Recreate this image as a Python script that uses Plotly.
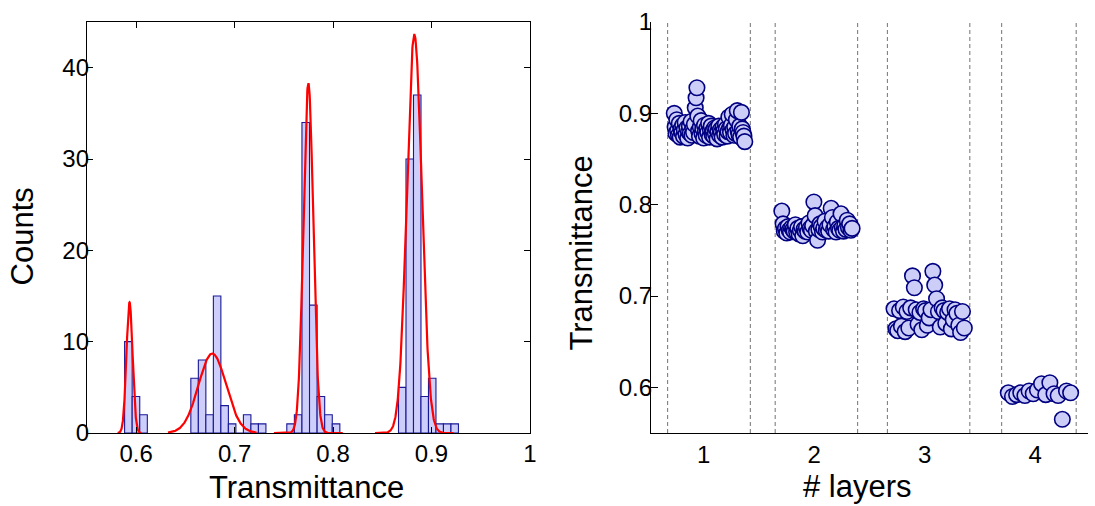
import numpy as np
import plotly.graph_objects as go

# ---------------- data ----------------
# Histogram (left panel): one set of bins per layer group
hist_left_edges = [0.5882, 0.6555, 0.7530, 0.8665]
hist_bin_width = [0.0077, 0.00763, 0.0077, 0.00761]
hist_counts = [
    [10, 4, 2],
    [6, 8, 2, 15, 3, 1, 0, 2, 1, 1],
    [1, 2, 34, 14, 4, 2, 1],
    [5, 30, 37, 4, 6, 1, 1, 1],
]

# Gaussian fits (amplitude, mean, sigma, half-span drawn)
fit_amp = [14.3, 8.7, 38.3, 43.6]
fit_mu = [0.5932, 0.6773, 0.7749, 0.8826]
fit_sigma = [0.0031, 0.0140, 0.0050, 0.0076]
fit_span = [0.012, 0.045, 0.035, 0.04]

# Scatter (right panel)
layers = [1, 2, 3, 4]
group_bounds = [(0.674, 1.422), (1.647, 2.393), (2.662, 3.408), (3.696, 4.370)]
t_layer1 = [0.900, 0.885, 0.878, 0.893, 0.881, 0.876, 0.889, 0.874, 0.883, 0.879,
            0.887, 0.875, 0.882, 0.890, 0.877, 0.884, 0.873, 0.880, 0.886, 0.878,
            0.891, 0.876, 0.883, 0.879, 0.888, 0.906, 0.917, 0.928, 0.897, 0.881,
            0.875, 0.885, 0.892, 0.878, 0.883, 0.873, 0.887, 0.880, 0.876, 0.884,
            0.879, 0.889, 0.874, 0.882, 0.886, 0.877, 0.881, 0.875, 0.884, 0.878,
            0.883, 0.872, 0.880, 0.886, 0.876, 0.882, 0.879, 0.874, 0.885, 0.881,
            0.877, 0.888, 0.883, 0.875, 0.880, 0.896, 0.884, 0.879, 0.887, 0.899,
            0.882, 0.876, 0.885, 0.878, 0.893, 0.903, 0.881, 0.877, 0.886, 0.874,
            0.901, 0.883, 0.879, 0.875, 0.869]
t_layer2 = [0.793, 0.779, 0.771, 0.774, 0.769, 0.776, 0.772, 0.770, 0.775, 0.773,
            0.771, 0.778, 0.770, 0.774, 0.768, 0.772, 0.776, 0.766, 0.773, 0.771,
            0.775, 0.770, 0.780, 0.774, 0.772, 0.777, 0.803, 0.788, 0.771, 0.761,
            0.773, 0.779, 0.776, 0.770, 0.774, 0.782, 0.772, 0.775, 0.771, 0.778,
            0.796, 0.786, 0.773, 0.776, 0.770, 0.781, 0.774, 0.772, 0.790, 0.775,
            0.771, 0.777, 0.773, 0.783, 0.775, 0.779, 0.772, 0.774]
t_layer3 = [0.686, 0.664, 0.662, 0.684, 0.667, 0.688, 0.661, 0.683, 0.665, 0.687,
            0.722, 0.709, 0.685, 0.669, 0.682, 0.663, 0.686, 0.684, 0.668, 0.676,
            0.685, 0.727, 0.712, 0.697, 0.683, 0.666, 0.687, 0.684, 0.670, 0.682,
            0.686, 0.664, 0.674, 0.685, 0.681, 0.668, 0.660, 0.683, 0.665]
t_layer4 = [0.594, 0.590, 0.592, 0.594, 0.591, 0.596, 0.593, 0.597, 0.604, 0.592,
            0.605, 0.593, 0.591, 0.565, 0.596, 0.594]
t_layers = [t_layer1, t_layer2, t_layer3, t_layer4]

x_ticks_left = [0.6, 0.7, 0.8, 0.9, 1.0]
x_ticktext_left = ["0.6", "0.7", "0.8", "0.9", "1"]
y_ticks_left = [0, 10, 20, 30, 40]
y_ticks_right = [0.6, 0.7, 0.8, 0.9, 1.0]
y_ticktext_right = ["0.6", "0.7", "0.8", "0.9", "1"]

# ---------------- style ----------------
FONT = "Liberation Sans, Arial, sans-serif"
BAR_FILL = "rgb(206,206,250)"
BAR_EDGE = "rgb(25,25,150)"
MK_FILL = "rgb(204,206,248)"
MK_EDGE = "rgb(0,0,128)"

W, H = 1095, 506
ML, MR, MT, MB = 87, 0, 22, 73
PW = W - ML - MR
PH = H - MT - MB

fig = go.Figure()

# histogram bars
for e0, bw, counts in zip(hist_left_edges, hist_bin_width, hist_counts):
    centers = [e0 + bw * (i + 0.5) for i in range(len(counts))]
    fig.add_trace(go.Bar(
        x=centers, y=counts, width=[bw] * len(counts),
        marker=dict(color=BAR_FILL, line=dict(color=BAR_EDGE, width=1.1)),
        xaxis="x", yaxis="y", showlegend=False,
    ))

# gaussian fits
for a, mu, s, sp in zip(fit_amp, fit_mu, fit_sigma, fit_span):
    xs = np.linspace(mu - sp, mu + sp, 300)
    ys = a * np.exp(-0.5 * ((xs - mu) / s) ** 2)
    fig.add_trace(go.Scatter(
        x=xs, y=ys, mode="lines", line=dict(color="red", width=2.2),
        xaxis="x", yaxis="y", showlegend=False,
    ))

# scatter groups
for (lo, hi), vals in zip(group_bounds, t_layers):
    xs = np.linspace(lo + 0.06, hi - 0.05, len(vals))
    fig.add_trace(go.Scatter(
        x=xs, y=vals, mode="markers",
        marker=dict(size=15.5, color=MK_FILL, line=dict(color=MK_EDGE, width=1.6)),
        xaxis="x2", yaxis="y2", showlegend=False,
    ))

shapes = []
for lo, hi in group_bounds:
    for xv in (lo, hi):
        shapes.append(dict(type="line", xref="x2", yref="y2 domain",
                           x0=xv, x1=xv, y0=0, y1=1, layer="below",
                           line=dict(color="rgb(115,115,115)", width=1, dash="4px,3px")))

left_dom = [0, 446 / PW]
right_dom = [(655 - ML) / PW, 1]

axis_common = dict(showgrid=False, zeroline=False, showline=True,
                   linecolor="black", linewidth=1.4, ticks="inside",
                   tickcolor="black", tickwidth=1.3,
                   tickfont=dict(family=FONT, size=24, color="black"))


def py(pix):
    return (MT + PH - pix) / PH


def px(pix):
    return (pix - ML) / PW


annotations = [
    dict(text="Counts", x=px(22), y=py(236), xref="paper", yref="paper",
         textangle=-90, showarrow=False, xanchor="center", yanchor="middle",
         font=dict(family=FONT, size=31, color="black")),
    dict(text="Transmittance", x=px(308), y=py(487), xref="paper", yref="paper",
         showarrow=False, xanchor="center", yanchor="middle",
         font=dict(family=FONT, size=31, color="black")),
    dict(text="Transmittance", x=px(584), y=py(253), xref="paper", yref="paper",
         textangle=-90, showarrow=False, xanchor="center", yanchor="middle",
         font=dict(family=FONT, size=31, color="black")),
    dict(text="# layers", x=px(863), y=py(486), xref="paper", yref="paper",
         showarrow=False, xanchor="center", yanchor="middle",
         font=dict(family=FONT, size=31, color="black")),
]

fig.update_layout(
    width=W, height=H,
    margin=dict(l=ML, r=MR, t=MT, b=MB, pad=0),
    paper_bgcolor="white", plot_bgcolor="white",
    barmode="overlay",
    shapes=shapes,
    annotations=annotations,
    xaxis=dict(domain=left_dom, range=[0.55, 1.0], tickvals=x_ticks_left,
               ticktext=x_ticktext_left, mirror="ticks", ticklen=6,
               ticklabelstandoff=-1, anchor="y", **axis_common),
    yaxis=dict(domain=[0, 1], range=[0, 45], tickvals=y_ticks_left,
               mirror="ticks", ticklen=6, ticklabelstandoff=-8,
               anchor="x", **axis_common),
    xaxis2=dict(domain=right_dom, range=[0.524, 4.477], tickvals=layers,
                ticktext=[str(v) for v in layers], anchor="y2",
                ticklen=0, ticklabelstandoff=0, **{k: v for k, v in axis_common.items() if k != "ticks"}),
    yaxis2=dict(domain=[0, 1], range=[0.55, 1.0], tickvals=y_ticks_right,
                ticktext=y_ticktext_right, anchor="x2", ticklen=7,
                ticklabelstandoff=-7, **axis_common),
)

fig.write_html("out.html")
